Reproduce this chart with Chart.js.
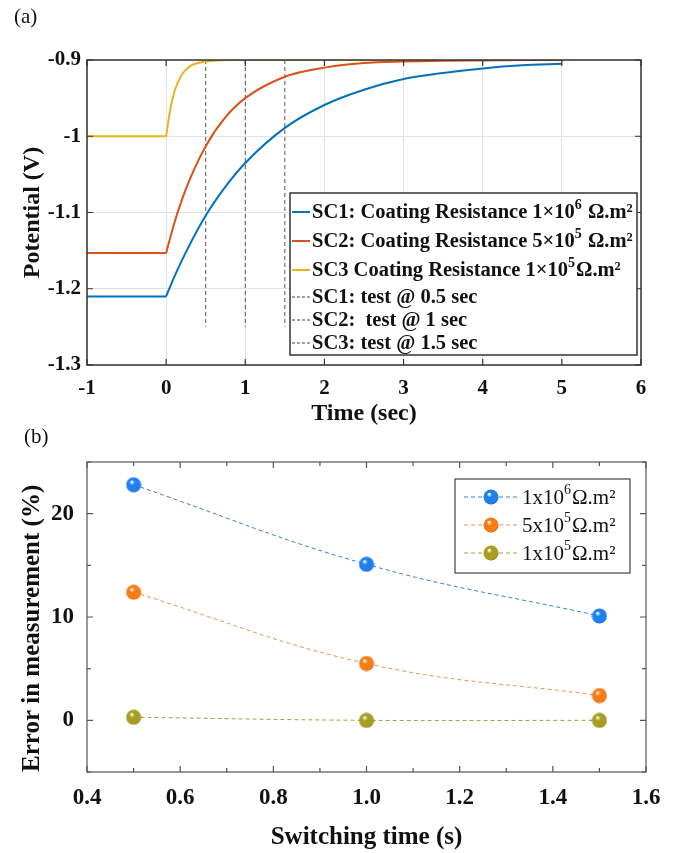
<!DOCTYPE html>
<html>
<head>
<meta charset="utf-8">
<script src="https://cdn.jsdelivr.net/npm/chart.js@4"></script>
<style>
  body { margin: 0; background: #fff; }
  .wrap { position: absolute; left: 0; width: 679px; }
  .tag { position: absolute; font: 21px "Liberation Serif", serif; color: #111; }
</style>
</head>
<body>
<div class="wrap" style="top:425px;height:428px"><canvas id="chartB" width="679" height="428"></canvas></div>
<div class="wrap" style="top:0;height:432px"><canvas id="chartA" width="679" height="432"></canvas></div>
<div class="tag" style="left:14px;top:4px">(a)</div>
<div class="tag" style="left:24px;top:424px">(b)</div>
<script>
// ---- panel (a): potential vs time ----
const timeSC1 = [-1, 0, 0.1, 0.25, 0.5, 0.75, 1, 1.5, 2, 2.5, 3, 3.5, 4, 4.5, 5];
const potSC1 = [-1.21, -1.21, -1.185, -1.152, -1.104, -1.066, -1.035, -0.989, -0.959, -0.939, -0.925, -0.917, -0.911, -0.907, -0.905];
const timeSC2 = [-1, 0, 0.1, 0.25, 0.5, 0.75, 1, 1.5, 2, 2.5, 3, 3.5, 4, 4.5, 5];
const potSC2 = [-1.153, -1.153, -1.115, -1.069, -1.013, -0.975, -0.95, -0.922, -0.91, -0.904, -0.902, -0.901, -0.9005, -0.9, -0.9];
const timeSC3 = [-1, 0, 0.05, 0.1, 0.15, 0.2, 0.3, 0.4, 0.5, 0.75, 1, 2, 3, 4, 5];
const potSC3 = [-1, -1, -0.966, -0.943, -0.929, -0.919, -0.908, -0.904, -0.902, -0.9, -0.9, -0.9, -0.9, -0.9, -0.9];
const testTimes = [0.5, 1, 1.5];
const testSpan = [-0.9, -1.25];
const labelsA = ['SC1: Coating Resistance 1×10^6 Ω.m²', 'SC2: Coating Resistance 5×10^5 Ω.m²', 'SC3 Coating Resistance 1×10^5Ω.m²',
                 'SC1: test @ 0.5 sec', 'SC2:  test @ 1 sec', 'SC3: test @ 1.5 sec'];
const xTicksA = [-1, 0, 1, 2, 3, 4, 5, 6];
const yTicksA = [-1.3, -1.2, -1.1, -1, -0.9];

// ---- panel (b): error vs switching time ----
const switchTimes = [0.5, 1.0, 1.5];
const err1e6 = [22.8, 15.1, 10.1];
const err5e5 = [12.4, 5.5, 2.4];
const err1e5 = [0.3, 0.0, 0.0];
const labelsB = ['1x10^6Ω.m²', '5x10^5Ω.m²', '1x10^5Ω.m²'];
const xTicksB = [0.4, 0.6, 0.8, 1.0, 1.2, 1.4, 1.6];
const yTicksB = [0, 10, 20];

const SERIF = '"Liberation Serif", "Times New Roman", serif';
const colA = ['#0072BD', '#D95319', '#EDB120'];

function pts(xs, ys) { return xs.map((x, i) => ({ x: x, y: ys[i] })); }

// draw "abc^6 def" with one-char superscripts
function richText(ctx, str, x, y, size, weight) {
  let i = 0;
  while (i < str.length) {
    if (str[i] === '^') {
      ctx.font = weight + ' ' + Math.round(size * 0.68) + 'px ' + SERIF;
      ctx.fillText(str[i + 1], x, y - size * 0.38);
      x += ctx.measureText(str[i + 1]).width + 1;
      i += 2;
    } else {
      let j = str.indexOf('^', i);
      if (j < 0) j = str.length;
      const s = str.slice(i, j);
      ctx.font = weight + ' ' + size + 'px ' + SERIF;
      ctx.fillText(s, x, y);
      x += ctx.measureText(s).width;
      i = j;
    }
  }
}

// box frame with inward ticks on all four sides
function frameTicks(cfg) {
  return {
    id: 'frameTicks',
    afterDatasetsDraw(chart) {
      const { ctx, chartArea: a, scales } = chart;
      ctx.save();
      ctx.strokeStyle = cfg.color;
      ctx.lineWidth = cfg.width;
      ctx.strokeRect(a.left, a.top, a.right - a.left, a.bottom - a.top);
      ctx.lineWidth = 1.2;
      const draw = (vals, len, axis) => vals.forEach(v => {
        ctx.beginPath();
        if (axis === 'x') {
          const px = scales.x.getPixelForValue(v);
          ctx.moveTo(px, a.bottom); ctx.lineTo(px, a.bottom - len);
          ctx.moveTo(px, a.top); ctx.lineTo(px, a.top + len);
        } else {
          const py = scales.y.getPixelForValue(v);
          ctx.moveTo(a.left, py); ctx.lineTo(a.left + len, py);
          ctx.moveTo(a.right, py); ctx.lineTo(a.right - len, py);
        }
        ctx.stroke();
      });
      draw(cfg.xMajor, cfg.len, 'x');
      draw(cfg.yMajor, cfg.len, 'y');
      draw(cfg.xMinor || [], cfg.minorLen, 'x');
      draw(cfg.yMinor || [], cfg.minorLen, 'y');
      ctx.restore();
    }
  };
}

const legendA = {
  id: 'legendA',
  afterDraw(chart) {
    const ctx = chart.ctx;
    const bx = 290, by = 193, bw = 347, bh = 162;
    const rows = [212, 241, 270, 297, 320, 343];
    ctx.save();
    ctx.fillStyle = '#fff';
    ctx.fillRect(bx, by, bw, bh);
    ctx.strokeStyle = '#333';
    ctx.lineWidth = 1.5;
    ctx.strokeRect(bx, by, bw, bh);
    ctx.textBaseline = 'middle';
    rows.forEach((ry, i) => {
      ctx.beginPath();
      if (i < 3) { ctx.strokeStyle = colA[i]; ctx.lineWidth = 2; ctx.setLineDash([]); }
      else { ctx.strokeStyle = '#444'; ctx.lineWidth = 1; ctx.setLineDash([3, 2]); }
      ctx.moveTo(292, ry); ctx.lineTo(310, ry);
      ctx.stroke();
      ctx.fillStyle = '#111';
      richText(ctx, labelsA[i], 312, ry + 1, 20.5, 'bold');
    });
    ctx.restore();
  }
};

const dsA = [];
[[timeSC1, potSC1], [timeSC2, potSC2], [timeSC3, potSC3]].forEach(([t, v], i) => {
  const all = pts(t, v);
  const k = t.indexOf(0);
  dsA.push({ data: all.slice(0, k + 1), borderColor: colA[i], borderWidth: 2, pointRadius: 0, tension: 0 });
  dsA.push({ data: all.slice(k), borderColor: colA[i], borderWidth: 2, pointRadius: 0, cubicInterpolationMode: 'monotone' });
});
testTimes.forEach(t => {
  dsA.push({ data: pts([t, t], testSpan), borderColor: '#555', borderWidth: 1, borderDash: [4, 3], pointRadius: 0 });
});

new Chart(document.getElementById('chartA'), {
  type: 'line',
  data: { datasets: dsA },
  options: {
    responsive: false,
    animation: false,
    layout: { padding: { top: 60, right: 38, left: 0, bottom: 0 } },
    plugins: { legend: { display: false }, tooltip: { enabled: false } },
    scales: {
      x: {
        type: 'linear', min: -1, max: 6,
        afterBuildTicks: s => { s.ticks = xTicksA.map(v => ({ value: v })); },
        afterFit: s => { s.height = 67; },
        grid: { color: '#e2e2e2', drawTicks: false },
        border: { display: false },
        ticks: { color: '#111', padding: 11, font: { family: SERIF, size: 21, weight: 'bold' }, callback: v => String(v) },
        title: { display: true, text: 'Time (sec)', color: '#111', padding: { top: 0, bottom: 4 }, font: { family: SERIF, size: 24, weight: 'bold' } }
      },
      y: {
        type: 'linear', min: -1.3, max: -0.9,
        afterBuildTicks: s => { s.ticks = yTicksA.map(v => ({ value: v })); },
        afterFit: s => { s.width = 87; },
        grid: { color: '#e2e2e2', drawTicks: false },
        border: { display: false },
        ticks: { color: '#111', padding: 6, font: { family: SERIF, size: 21, weight: 'bold' }, callback: v => String(v) },
        title: { display: true, text: 'Potential (V)', color: '#111', padding: { top: 18, bottom: 0 }, font: { family: SERIF, size: 24, weight: 'bold' } }
      }
    }
  },
  plugins: [frameTicks({ color: '#333', width: 1.5, len: 6, minorLen: 6, xMajor: xTicksA, yMajor: yTicksA }), legendA]
});

// ---- panel (b) ----
function ball(base, dark) {
  const c = document.createElement('canvas');
  c.width = 16; c.height = 16;
  const g = c.getContext('2d');
  const grad = g.createRadialGradient(6, 5, 0.5, 8, 8, 8);
  grad.addColorStop(0, '#ffffff');
  grad.addColorStop(0.28, base);
  grad.addColorStop(0.85, base);
  grad.addColorStop(1, dark);
  g.fillStyle = grad;
  g.beginPath(); g.arc(8, 8, 7.5, 0, Math.PI * 2); g.fill();
  return c;
}
const ballsB = [ball('#1e7ff0', '#0b4fb5'), ball('#f77d12', '#c25400'), ball('#a89d1e', '#6c6812')];
const lineColB = ['#3d7fd8', '#ea9358', '#a3a040'];

const legendB = {
  id: 'legendB',
  afterDraw(chart) {
    const ctx = chart.ctx;
    const bx = 455, by = 54, bw = 175, bh = 94;
    const rows = [72, 100, 128];
    ctx.save();
    ctx.fillStyle = '#fff';
    ctx.fillRect(bx, by, bw, bh);
    ctx.strokeStyle = '#444';
    ctx.lineWidth = 1.2;
    ctx.strokeRect(bx, by, bw, bh);
    ctx.textBaseline = 'middle';
    rows.forEach((ry, i) => {
      ctx.beginPath();
      ctx.strokeStyle = lineColB[i]; ctx.lineWidth = 1; ctx.setLineDash([4, 3]);
      ctx.moveTo(464, ry); ctx.lineTo(518, ry);
      ctx.stroke();
      ctx.drawImage(ballsB[i], 483, ry - 8);
      ctx.fillStyle = '#111';
      richText(ctx, labelsB[i], 522, ry + 1, 21, 'normal');
    });
    ctx.restore();
  }
};

new Chart(document.getElementById('chartB'), {
  type: 'line',
  data: {
    datasets: [err1e6, err5e5, err1e5].map((v, i) => ({
      data: pts(switchTimes, v),
      borderColor: lineColB[i], borderWidth: 1, borderDash: [4, 3],
      pointStyle: ballsB[i], pointRadius: 8, tension: 0.4
    }))
  },
  options: {
    responsive: false,
    animation: false,
    layout: { padding: { top: 37, right: 33, left: 0, bottom: 0 } },
    plugins: { legend: { display: false }, tooltip: { enabled: false } },
    scales: {
      x: {
        type: 'linear', min: 0.4, max: 1.6,
        afterBuildTicks: s => { s.ticks = xTicksB.map(v => ({ value: v })); },
        afterFit: s => { s.height = 81; },
        grid: { display: false },
        border: { display: false },
        ticks: { color: '#111', padding: 4, font: { family: SERIF, size: 23, weight: 'bold' }, callback: v => v.toFixed(1) },
        title: { display: true, text: 'Switching time (s)', color: '#111', padding: { top: 0, bottom: 0 }, font: { family: SERIF, size: 25, weight: 'bold' } }
      },
      y: {
        type: 'linear', min: -5, max: 25,
        afterBuildTicks: s => { s.ticks = yTicksB.map(v => ({ value: v })); },
        afterFit: s => { s.width = 87; },
        grid: { display: false },
        border: { display: false },
        ticks: { color: '#111', padding: 5, font: { family: SERIF, size: 23, weight: 'bold' }, callback: v => String(v) },
        title: { display: true, text: 'Error in measurement (%)', align: 'start', color: '#111', padding: { top: 18, bottom: 0 }, font: { family: SERIF, size: 25, weight: 'bold' } }
      }
    }
  },
  plugins: [frameTicks({ color: '#555', width: 1.2, len: 6, minorLen: 4,
    xMajor: xTicksB, yMajor: yTicksB, xMinor: [0.5, 0.7, 0.9, 1.1, 1.3, 1.5], yMinor: [-5, 5, 15, 25] }), legendB]
});
</script>
</body>
</html>
